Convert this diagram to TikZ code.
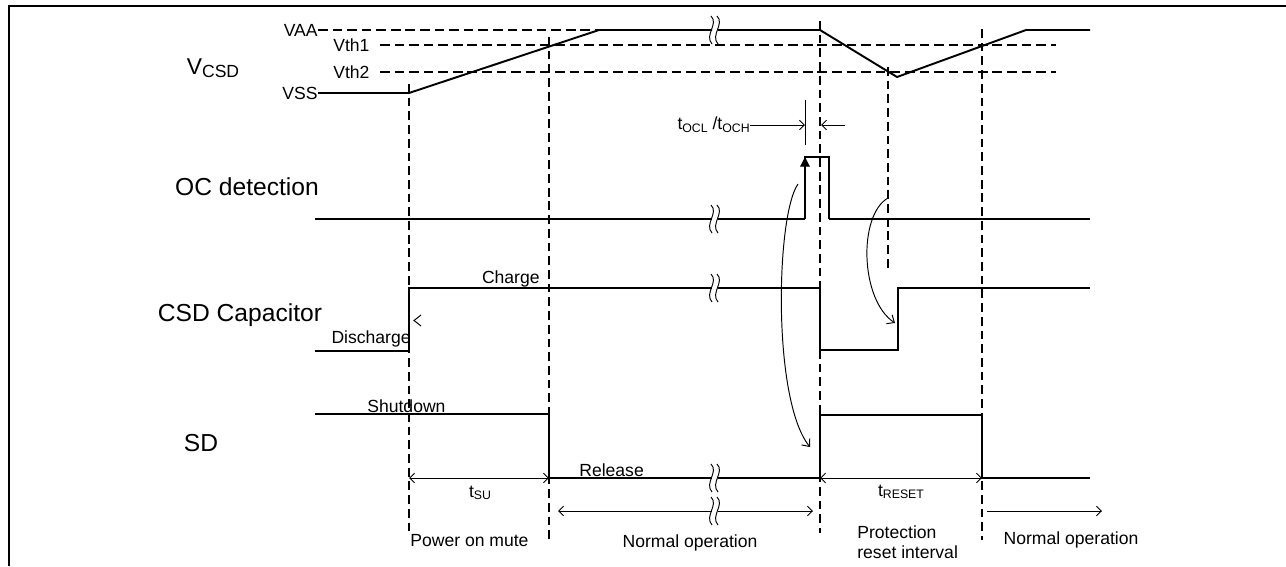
\documentclass[tikz,border=0pt]{standalone}
\usepackage{fontspec}
\setmainfont{Liberation Sans}
\usetikzlibrary{arrows.meta}

% gap mark in a long waveform
\newcommand{\wavebreak}[2]{%
  \draw[fine] (#1-4,#2-14) .. controls (#1+4,#2-6) and (#1-11,#2+5) .. (#1-3,#2+14);
  \draw[fine] (#1+2,#2-14) .. controls (#1+10,#2-6) and (#1-5,#2+5) .. (#1+3,#2+14);
}
\newcommand{\sub}[1]{\raisebox{-1.5pt}{\fontsize{7}{8}\selectfont #1}}

\begin{document}
\begin{tikzpicture}[x=0.02cm,y=-0.02cm,
    every node/.style={font=\fontsize{10}{12}\selectfont,inner sep=0pt},
    wave/.style={line width=1.1pt},
    fine/.style={line width=0.55pt},
    level/.style={line width=1.1pt,dash pattern=on 5.5pt off 2.8pt},
    marker/.style={line width=1.1pt,dash pattern=on 5pt off 2.8pt},
    span/.style={fine,{Straight Barb[length=2.8pt,width=5.5pt]}-{Straight Barb[length=2.8pt,width=5.5pt]}},
    onespan/.style={fine,-{Straight Barb[length=2.8pt,width=5.5pt]}},
    cause/.style={fine,-{Straight Barb[length=3.5pt,width=6pt]}},
    signame/.style={font=\fontsize{14}{16}\selectfont}]
  \useasboundingbox (0,0) rectangle (1286,566);
  \draw[line width=0.9pt] (9,566) -- (9,6) -- (1286,6);

  % signal names
  \node[font=\fontsize{13}{15}\selectfont] (vcsd) at (213,68)
    {V\raisebox{-1.5pt}{\fontsize{10}{12}\selectfont CSD}};
  \node[signame] (ocdet) at (247,187) {OC detection};
  \node[signame] (csdcap) at (240,315) {CSD Capacitor};
  \node[signame] (sd) at (201,443) {SD};

  % V_CSD
  \node[anchor=east] (vaa) at (318,30) {VAA};
  \node[anchor=west] (vth1) at (333,45) {Vth1};
  \node[anchor=west] (vth2) at (333,72) {Vth2};
  \node[anchor=east] (vss) at (318,93) {VSS};
  \draw[level] (vaa.east) -- (598,30);
  \draw[level] (380,45) -- (1056,45);
  \draw[level] (380,72) -- (1056,72);
  \draw[wave] (vss.east) -- (409,93) -- (599,30) -- (712,30);
  \draw[wave] (718,30) -- (820,30) -- (897,77) -- (1026,30) -- (1090,30);
  \wavebreak{715}{30}

  % time markers
  \draw[marker] (409,84) -- (409,536);
  \draw[marker] (549,37) -- (549,540);
  \draw[marker] (820,21) -- (820,533);
  \draw[marker] (888,67) -- (888,270);
  \draw[marker] (982,29) -- (982,540);

  % OC detection
  \draw[wave] (315,219) -- (712,219);
  \draw[wave] (718,219) -- (805,219);
  \draw[line width=0.7pt] (805,219) -- (805,157) -- (829,157) -- (829,219);
  \draw[wave] (829,219) -- (1090,219);
  \draw[line width=0.7pt,-{Triangle[length=5.5pt,width=5.5pt]}] (805,190) -- (805,157);
  \wavebreak{715}{219}
  \node[anchor=east] (tocl) at (750,125) {t\sub{OCL} /t\sub{OCH}};
  \draw[fine] (805,100) -- (805,145);
  \draw[onespan] (tocl.east) -- (805,125);
  \draw[onespan] (845,125) -- (821,125);

  % CSD capacitor
  \draw[wave] (315,351) -- (409,351) -- (409,288) -- (712,288);
  \draw[wave] (718,288) -- (820,288) -- (820,350) -- (898,350) -- (898,288) -- (1090,288);
  \wavebreak{715}{288}
  \node[anchor=east] (charge) at (540,279) {Charge};
  \node[anchor=east] (discharge) at (411,339) {Discharge};
  \draw[fine] (421,315) -- (414,320.5) -- (421,326);

  % SD
  \draw[wave] (315,414) -- (549,414) -- (549,478) -- (712,478);
  \draw[wave] (718,478) -- (820,478) -- (820,415) -- (982,415) -- (982,478) -- (1090,478);
  \wavebreak{715}{478}
  \node[anchor=west] (shutdown) at (367,406) {Shutdown};
  \node[anchor=west] (release) at (579,470) {Release};

  % causes
  \draw[cause] (798,184) .. controls (776,215) and (772,400) .. (810,447);
  \draw[cause] (888,198) .. controls (858,215) and (860,300) .. (895,323);

  % intervals
  \draw[span] (409,478) -- (549,478);
  \node (tsu) at (480,493) {t\sub{SU}};
  \draw[span] (820,478) -- (982,478);
  \node (treset) at (901,492) {t\sub{RESET}};
  \draw[onespan] (712,511) -- (558,511);
  \draw[onespan] (718,511) -- (813,511);
  \wavebreak{715}{511}
  \draw[onespan] (987,511) -- (1102,511);

  \node[anchor=west] (pom) at (410,541) {Power on mute};
  \node (norm1) at (690,543) {Normal operation};
  \node[anchor=west,align=left,font=\fontsize{10}{11.3}\selectfont] (prot) at (857,542)
    {Protection\\reset interval};
  \node (norm2) at (1071,540) {Normal operation};
\end{tikzpicture}
\end{document}
